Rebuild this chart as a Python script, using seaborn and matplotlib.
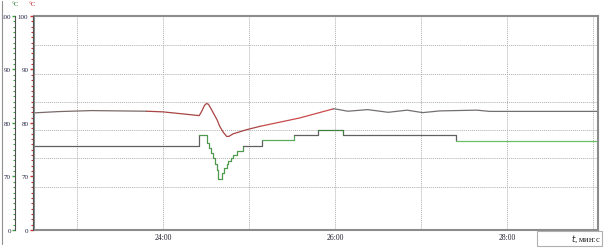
import numpy as np
import pandas as pd
import matplotlib
matplotlib.use("Agg")
import matplotlib.pyplot as plt
from matplotlib.lines import Line2D
from matplotlib.patches import Rectangle
import seaborn as sns

# ---- data (time in minutes, values on the 60..100 display scale) ----
red_t = [22.50, 22.78, 23.17, 23.81, 24.00, 24.31, 24.422, 24.453, 24.483, 24.508,
         24.529, 24.558, 24.585, 24.63, 24.66, 24.70, 24.741, 24.767, 24.817,
         24.97, 25.13, 25.59, 25.98, 26.00, 26.15, 26.38, 26.62, 26.84, 27.02,
         27.22, 27.65, 27.80, 29.06]
red_v = [81.89, 82.13, 82.32, 82.20, 82.08, 81.57, 81.38, 82.26, 83.30, 83.65,
         83.50, 82.70, 81.90, 80.57, 79.38, 78.30, 77.49, 77.50, 77.98,
         78.74, 79.38, 80.94, 82.64, 82.64, 82.20, 82.50, 82.00, 82.40, 81.94,
         82.26, 82.40, 82.17, 82.17]

green_t = [22.50, 24.424, 24.508, 24.535, 24.558, 24.581, 24.605, 24.624, 24.643,
           24.690, 24.713, 24.741, 24.762, 24.791, 24.817, 24.857, 24.934,
           25.148, 25.523, 25.802, 26.093, 27.403, 29.058]
green_v = [75.66, 77.74, 76.23, 75.28, 74.34, 73.40, 72.26, 71.13, 69.62,
           70.57, 71.51, 72.26, 72.83, 73.40, 73.96, 74.72, 75.66,
           76.74, 77.68, 78.74, 77.68, 76.66, 76.66]

# colour segments (start, end, colour)
red_segments = [(22.50, 23.81, "#7a6a6a"), (23.81, 25.13, "#a84444"),
                (25.13, 25.98, "#c84a4a"), (25.98, 29.06, "#757070")]
green_segments = [(22.50, 24.424, "#606060"), (24.424, 24.934, "#4f9a4f"),
                  (24.934, 25.148, "#606060"), (25.148, 25.523, "#5aaa5a"),
                  (25.523, 25.802, "#606060"), (25.802, 26.093, "#3f7f3f"),
                  (26.093, 27.403, "#606060"), (27.403, 29.058, "#6cc06c")]

x_ticks = [23, 24, 25, 26, 27, 28, 29]
x_labels = ["", "24:00", "", "26:00", "", "28:00", ""]
y_ticks = [60, 70, 80, 90, 100]
y_labels = ["0", "70", "80", "90", "100"]
h_grid = [94.53, 89.25, 83.96, 78.68, 73.40, 68.10]

sns.set_theme(style="white")
plt.rcParams["font.family"] = ["Liberation Serif", "DejaVu Serif"]

W, H = 604, 251
fig = plt.figure(figsize=(W / 100, H / 100), dpi=100)
left, right, top, bottom = 34, 598, 17, 231
ax = fig.add_axes([left / W, 1 - bottom / H, (right - left) / W, (bottom - top) / H])

red = pd.DataFrame({"t": red_t, "v": red_v})
green = pd.DataFrame({"t": green_t, "v": green_v})

for a, b, c in red_segments:
    d = red[(red.t >= a - 1e-9) & (red.t <= b + 1e-9)]
    sns.lineplot(data=d, x="t", y="v", ax=ax, color=c, lw=0.9,
                 estimator=None, sort=False)
for a, b, c in green_segments:
    d = green[(green.t >= a - 1e-9) & (green.t <= b + 1e-9)]
    sns.lineplot(data=d, x="t", y="v", ax=ax, color=c, lw=0.9,
                 estimator=None, sort=False, drawstyle="steps-post")

ax.set_xlim(22.5, 29.06)
ax.set_ylim(60, 100)
ax.set_xlabel("")
ax.set_ylabel("")
ax.set_xticks(x_ticks)
ax.set_xticklabels(x_labels, fontsize=5.5, color="#202030")
ax.set_yticks(h_grid)
ax.set_yticklabels([])
ax.tick_params(axis="both", length=0, pad=2)
ax.grid(True, linestyle=(0, (1, 1)), color="#b0b0b0", lw=0.7)
for s in ax.spines.values():
    s.set_color("#8c8c8c")
    s.set_linewidth(1.5)

# side value axes
def side_axis(xpix, tick_col, unit_col):
    sa = fig.add_axes([xpix / W, 1 - bottom / H, 0.0001, (bottom - top) / H])
    sa.set_ylim(60, 100)
    sa.set_xticks([])
    for k in ["top", "right", "bottom"]:
        sa.spines[k].set_visible(False)
    sa.spines["left"].set_color("#505050")
    sa.spines["left"].set_linewidth(0.8)
    sa.set_yticks(y_ticks)
    sa.set_yticklabels(y_labels, fontsize=5.0, color="#202040")
    sa.set_yticks(np.arange(60, 101, 1), minor=True)
    sa.tick_params(axis="y", which="both", left=True, right=False)
    sa.tick_params(axis="y", which="major", length=2.5, width=1.0, color=tick_col, pad=0.5)
    sa.tick_params(axis="y", which="minor", length=1.5, width=0.8, color=tick_col)
    sa.patch.set_alpha(0)
    fig.text(xpix / W, 1 - 4 / H, "°C", fontsize=5.0, color=unit_col,
             ha="center", va="center")
    return sa

side_axis(15, "#3aa03a", "#2f7f2f")
side_axis(32.5, "#d03030", "#c03030")

# left frame line
fig.add_artist(Line2D([2.0 / W, 2.0 / W], [1 - 2 / H, 1 - 245 / H],
                      color="#909090", lw=0.8))

# axis unit box
fig.add_artist(Rectangle((537 / W, 1 - 247 / H), 65 / W, 15 / H,
                         transform=fig.transFigure, fill=False,
                         edgecolor="#b0b0b0", lw=0.8))
fig.text(601 / W, 1 - 239.5 / H, r"$\mathit{t}$, мин:с", fontsize=6.0,
         ha="right", va="center", color="#202020")

fig.savefig("out.png", dpi=100)
